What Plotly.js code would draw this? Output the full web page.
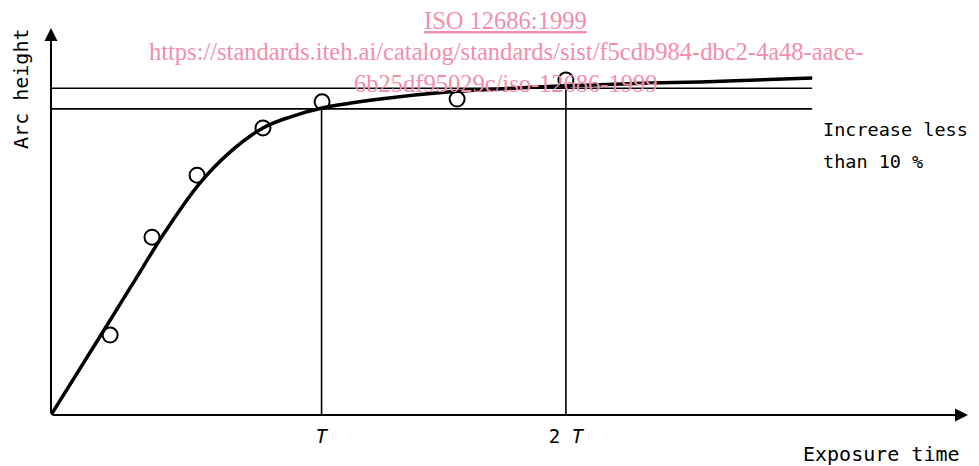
<!DOCTYPE html>
<html>
<head>
<meta charset="utf-8">
<script src="https://cdn.plot.ly/plotly-3.0.1.min.js"></script>
<style>html,body{margin:0;padding:0;background:#fff;}#chart{width:979px;height:466px;}</style>
</head>
<body>
<div id="chart"></div>
<script>
// Fitted curve (exposure time, arc height) in arbitrary units
const curveX = [0, 1.85, 3.11, 4.22, 5.52, 6.63, 7.85, 8.85, 10.04, 12.19, 14.67, 17.11, 19.07, 22.19, 24.04, 28.19];
const curveY = [0, 20.5, 34.6, 46.9, 59.5, 67.4, 73.6, 76.4, 78.7, 81.0, 82.8, 83.8, 84.4, 85.1, 85.4, 86.4];
// Measured points
const pointX = [2.19, 3.74, 5.41, 7.85, 10.04, 15.04, 19.07];
const pointY = [20.5, 45.6, 61.5, 73.6, 80.3, 81.0, 85.9];
// Reference levels (arc height at T and +10 %)
const levelY = [78.5, 83.8];
const levelEndX = 28.19;
// Saturation time markers
const markX = [10.02, 19.07];
const markTopY = [78.7, 84.6];
const tickLabels = ["<i>T</i>", "2 <i>T</i>"];
const axisTipX = 33.96, axisTipY = 99.2;

const black = "#000";
const font = "DejaVu Sans Mono, monospace";
const pink = "rgb(242,142,172)";
const serif = "Liberation Serif, serif";

const traces = [];
levelY.forEach(v => traces.push({x:[0, levelEndX], y:[v, v], mode:"lines", line:{color:black, width:1.6}, hoverinfo:"skip", showlegend:false}));
markX.forEach((v,i) => traces.push({x:[v, v], y:[0, markTopY[i]], mode:"lines", line:{color:black, width:1.6}, hoverinfo:"skip", showlegend:false}));
traces.push({x:curveX, y:curveY, mode:"lines", line:{color:black, width:3.5, shape:"spline", smoothing:1}, showlegend:false, cliponaxis:false});
traces.push({x:pointX, y:pointY, mode:"markers", marker:{symbol:"circle-open", size:15, color:black, line:{width:2, color:black}}, showlegend:false, cliponaxis:false});

const annotations = [
  // axes with arrows
  {x:axisTipX, y:0, ax:0, ay:0, axref:"x", ayref:"y", xref:"x", yref:"y", showarrow:true, arrowhead:2, arrowsize:1.3, arrowwidth:2, arrowcolor:black, text:""},
  {x:0, y:axisTipY, ax:0, ay:0, axref:"x", ayref:"y", xref:"x", yref:"y", showarrow:true, arrowhead:2, arrowsize:1.3, arrowwidth:2, arrowcolor:black, text:""},
  {text:"Arc height", xref:"paper", yref:"paper", x:-0.0325, y:0.836, xanchor:"center", yanchor:"middle", textangle:-90, showarrow:false, font:{family:font, size:20, color:black}},
  {text:"Exposure time", xref:"paper", yref:"paper", x:0.986, y:-0.1, xanchor:"right", yanchor:"middle", showarrow:false, font:{family:font, size:20, color:black}},
  {text:"Increase less", xref:"paper", yref:"paper", x:0.8335, y:0.731, xanchor:"left", yanchor:"middle", showarrow:false, font:{family:font, size:18.5, color:black}},
  {text:"than 10 %", xref:"paper", yref:"paper", x:0.8335, y:0.649, xanchor:"left", yanchor:"middle", showarrow:false, font:{family:font, size:18.5, color:black}},
  // watermark
  {text:"<u>ISO 12686:1999</u>", xref:"paper", yref:"paper", x:0.492, y:1.0128, xanchor:"center", yanchor:"middle", showarrow:false, font:{family:serif, size:24.5, color:pink}},
  {text:"https://standards.iteh.ai/catalog/standards/sist/f5cdb984-dbc2-4a48-aace-", xref:"paper", yref:"paper", x:0.492, y:0.931, xanchor:"center", yanchor:"middle", showarrow:false, font:{family:serif, size:24.5, color:pink}},
  {text:"6b25df95029c/iso-12686-1999", xref:"paper", yref:"paper", x:0.492, y:0.849, xanchor:"center", yanchor:"middle", showarrow:false, font:{family:serif, size:24.5, color:pink}}
];

const layout = {
  width:979, height:466,
  margin:{l:51, r:4, t:25, b:51},
  paper_bgcolor:"#fff", plot_bgcolor:"#fff",
  xaxis:{range:[0, 34.22], showgrid:false, zeroline:false, showline:false, ticks:"", tickvals:markX, ticktext:tickLabels, ticklabelstandoff:8, tickfont:{family:font, size:19, color:black}, fixedrange:true},
  yaxis:{range:[0, 100], showgrid:false, zeroline:false, showline:false, ticks:"", showticklabels:false, fixedrange:true},
  annotations:annotations,
  showlegend:false
};
Plotly.newPlot("chart", traces, layout, {staticPlot:true, displayModeBar:false});
</script>
</body>
</html>
